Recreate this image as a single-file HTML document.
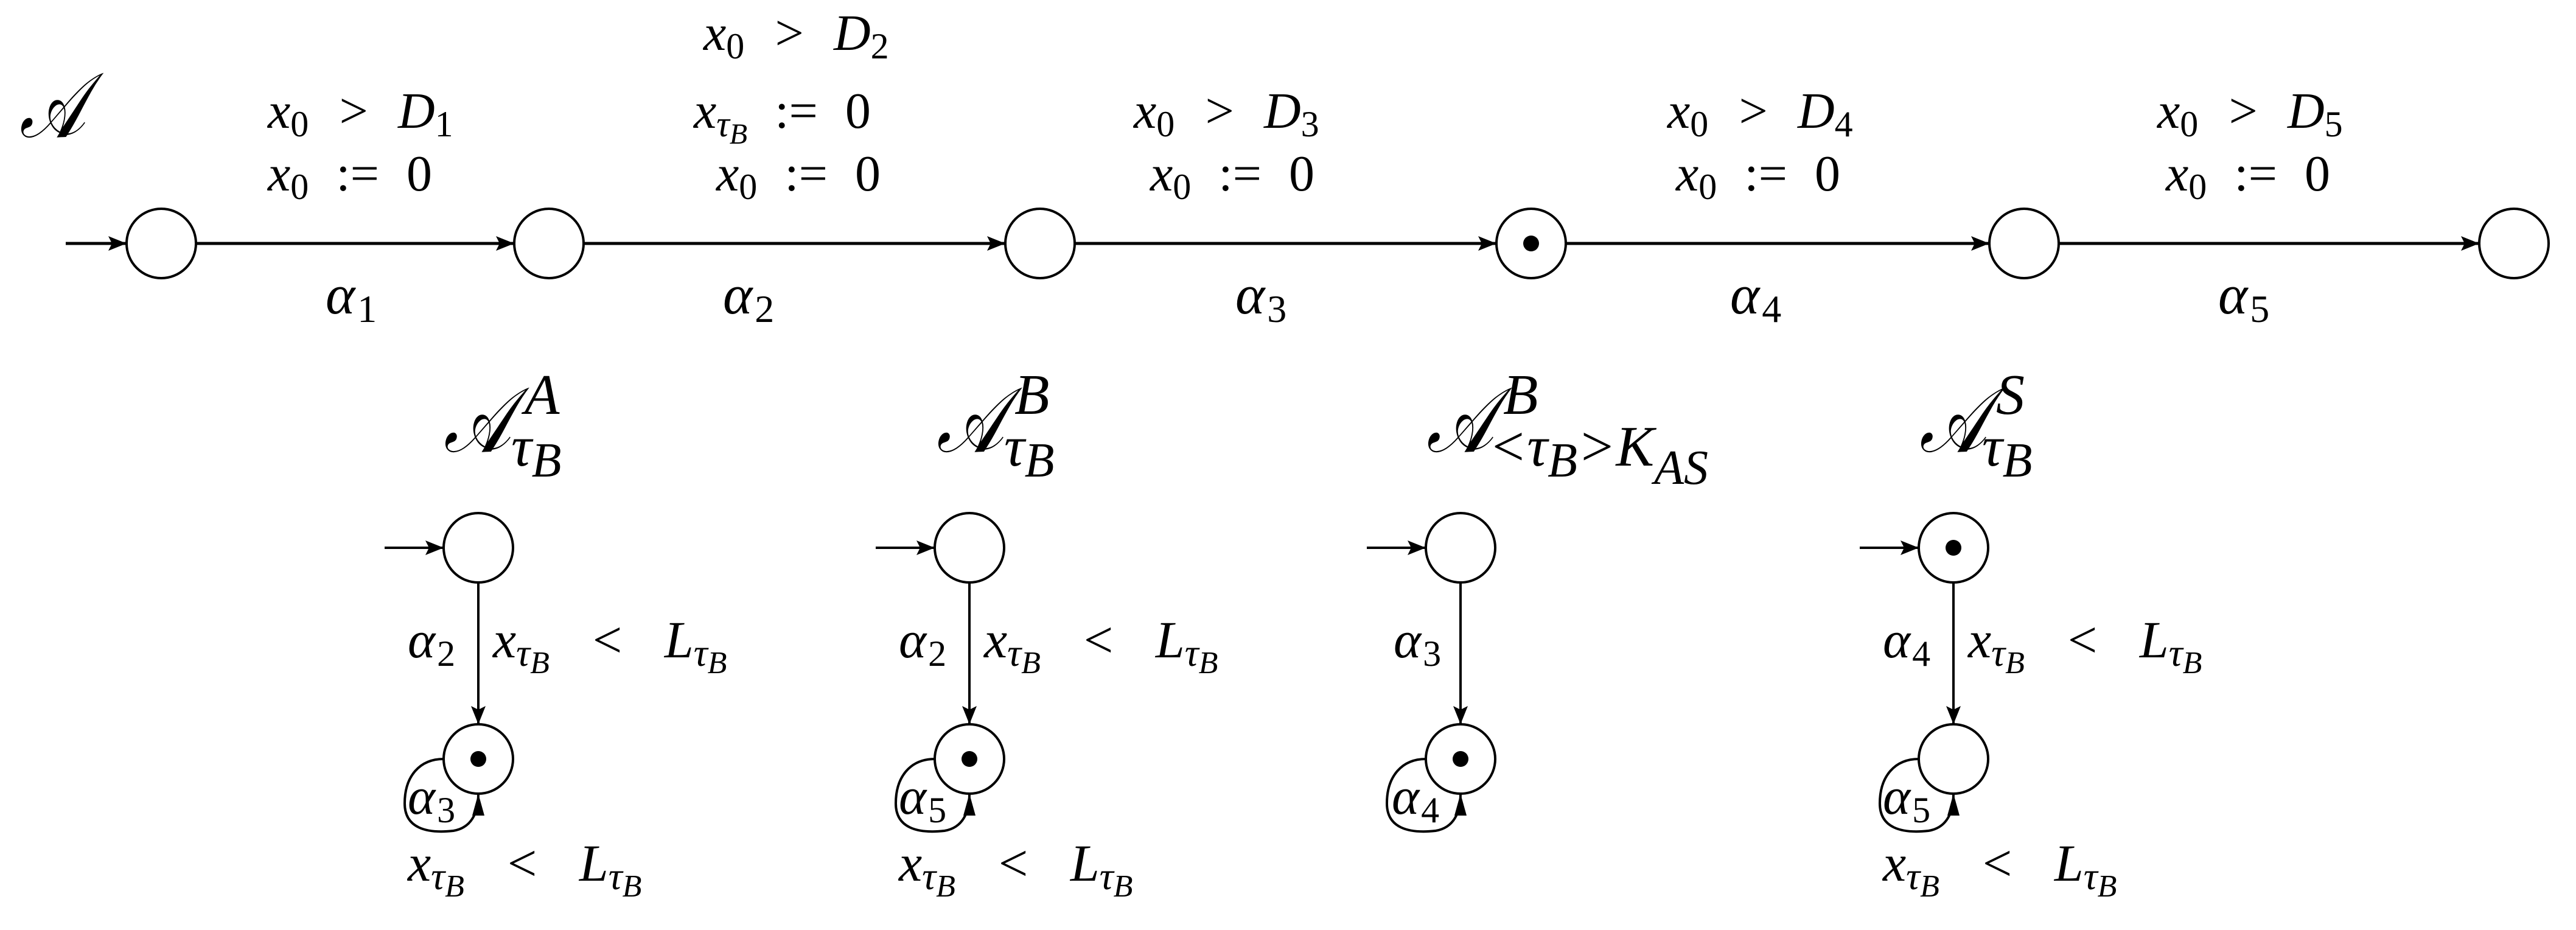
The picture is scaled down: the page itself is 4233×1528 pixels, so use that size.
<!DOCTYPE html>
<html><head><meta charset="utf-8"><style>
html,body{margin:0;padding:0;background:#fff}
svg{display:block}
text{font-family:"Liberation Serif",serif;font-style:italic;fill:#000}
.u{font-style:normal}
.w{word-spacing:24px}
.ww{word-spacing:44px}
</style></head><body>
<svg width="4233" height="1528" viewBox="0 0 4233 1528" xmlns="http://www.w3.org/2000/svg">
<g stroke="#000" stroke-width="5" fill="none">
<line x1="108" y1="400" x2="208" y2="400"/>
<line x1="322" y1="400" x2="845" y2="400"/>
<line x1="959" y1="400" x2="1652" y2="400"/>
<line x1="1766" y1="400" x2="2459" y2="400"/>
<line x1="2573" y1="400" x2="3269" y2="400"/>
<line x1="3383" y1="400" x2="4074" y2="400"/>
</g>
<g fill="#000">
<polygon points="208,400 178,388 184,400 178,412"/>
<polygon points="845,400 815,388 821,400 815,412"/>
<polygon points="1652,400 1622,388 1628,400 1622,412"/>
<polygon points="2459,400 2429,388 2435,400 2429,412"/>
<polygon points="3269,400 3239,388 3245,400 3239,412"/>
<polygon points="4074,400 4044,388 4050,400 4044,412"/>
</g>
<g stroke="#000" stroke-width="4" fill="#fff">
<circle cx="265" cy="400" r="57"/>
<circle cx="902" cy="400" r="57"/>
<circle cx="1709" cy="400" r="57"/>
<circle cx="2516" cy="400" r="57"/>
<circle cx="3326" cy="400" r="57"/>
<circle cx="4131" cy="400" r="57"/>
</g>
<circle cx="2516" cy="400" r="13" fill="#000"/>

<text x="32" y="225" font-size="150" textLength="108" lengthAdjust="spacingAndGlyphs">𝒜</text>
<g font-size="84" class="w">
<text x="440" y="210">x<tspan class="u" font-size="60" dy="14">0</tspan><tspan dy="-14"> &gt; D</tspan><tspan class="u" font-size="60" dy="14">1</tspan></text>
<text x="440" y="313">x<tspan class="u" font-size="60" dy="14">0</tspan><tspan class="u" dy="-14"> := 0</tspan></text>
<text x="1156" y="82">x<tspan class="u" font-size="60" dy="14">0</tspan><tspan dy="-14"> &gt; D</tspan><tspan class="u" font-size="60" dy="14">2</tspan></text>
<text x="1140" y="210">x<tspan font-size="60" dy="14">τ</tspan><tspan font-size="48" dy="12">B</tspan><tspan class="u" dy="-26"> := 0</tspan></text>
<text x="1177" y="313">x<tspan class="u" font-size="60" dy="14">0</tspan><tspan class="u" dy="-14"> := 0</tspan></text>
<text x="1863" y="210">x<tspan class="u" font-size="60" dy="14">0</tspan><tspan dy="-14"> &gt; D</tspan><tspan class="u" font-size="60" dy="14">3</tspan></text>
<text x="1890" y="313">x<tspan class="u" font-size="60" dy="14">0</tspan><tspan class="u" dy="-14"> := 0</tspan></text>
<text x="2740" y="210">x<tspan class="u" font-size="60" dy="14">0</tspan><tspan dy="-14"> &gt; D</tspan><tspan class="u" font-size="60" dy="14">4</tspan></text>
<text x="2754" y="313">x<tspan class="u" font-size="60" dy="14">0</tspan><tspan class="u" dy="-14"> := 0</tspan></text>
<text x="3545" y="210">x<tspan class="u" font-size="60" dy="14">0</tspan><tspan dy="-14"> &gt; D</tspan><tspan class="u" font-size="60" dy="14">5</tspan></text>
<text x="3559" y="313">x<tspan class="u" font-size="60" dy="14">0</tspan><tspan class="u" dy="-14"> := 0</tspan></text>
</g>
<g font-size="92">
<text x="535" y="515">α<tspan class="u" font-size="64" dx="4" dy="14">1</tspan></text>
<text x="1188" y="515">α<tspan class="u" font-size="64" dx="4" dy="14">2</tspan></text>
<text x="2030" y="515">α<tspan class="u" font-size="64" dx="4" dy="14">3</tspan></text>
<text x="2843" y="515">α<tspan class="u" font-size="64" dx="4" dy="14">4</tspan></text>
<text x="3645" y="515">α<tspan class="u" font-size="64" dx="4" dy="14">5</tspan></text>
</g>

<g font-size="150">
<text x="729" y="742" textLength="110" lengthAdjust="spacingAndGlyphs">𝒜</text>
<text x="1539" y="742" textLength="110" lengthAdjust="spacingAndGlyphs">𝒜</text>
<text x="2344" y="742" textLength="110" lengthAdjust="spacingAndGlyphs">𝒜</text>
<text x="3154" y="742" textLength="110" lengthAdjust="spacingAndGlyphs">𝒜</text>
</g>
<g font-size="94">
<text x="862" y="680">A</text>
<text x="1667" y="680">B</text>
<text x="2470" y="680">B</text>
<text x="3280" y="680">S</text>
<text x="840" y="765">τ<tspan font-size="80" dy="18">B</tspan></text>
<text x="1650" y="765">τ<tspan font-size="80" dy="18">B</tspan></text>
<text x="3257" y="765">τ<tspan font-size="80" dy="18">B</tspan></text>
<text x="2446" y="765" style="word-spacing:0">&lt;τ<tspan font-size="80" dy="18">B</tspan><tspan dy="-18">&gt;K</tspan><tspan font-size="80" dy="30">AS</tspan></text>
</g>

<g stroke="#000" stroke-width="4" fill="none">
<line x1="632" y1="900" x2="729" y2="900"/>
<line x1="786" y1="957" x2="786" y2="1190"/>
<path d="M729,1247 C690,1247 665,1275 665,1320 C665,1360 700,1370 745,1365 C775,1360 786,1335 786,1304"/>
<line x1="1439" y1="900" x2="1536" y2="900"/>
<line x1="1593" y1="957" x2="1593" y2="1190"/>
<path d="M1536,1247 C1497,1247 1472,1275 1472,1320 C1472,1360 1507,1370 1552,1365 C1582,1360 1593,1335 1593,1304"/>
<line x1="2246" y1="900" x2="2343" y2="900"/>
<line x1="2400" y1="957" x2="2400" y2="1190"/>
<path d="M2343,1247 C2304,1247 2279,1275 2279,1320 C2279,1360 2314,1370 2359,1365 C2389,1360 2400,1335 2400,1304"/>
<line x1="3056" y1="900" x2="3153" y2="900"/>
<line x1="3210" y1="957" x2="3210" y2="1190"/>
<path d="M3153,1247 C3114,1247 3089,1275 3089,1320 C3089,1360 3124,1370 3169,1365 C3199,1360 3210,1335 3210,1304"/>
</g>
<g fill="#000">
<polygon points="729,900 699,888 705,900 699,912"/>
<polygon points="786,1190 774,1160 786,1166 798,1160"/>
<polygon points="786,1304 776,1340 796,1340"/>
<polygon points="1536,900 1506,888 1512,900 1506,912"/>
<polygon points="1593,1190 1581,1160 1593,1166 1605,1160"/>
<polygon points="1593,1304 1583,1340 1603,1340"/>
<polygon points="2343,900 2313,888 2319,900 2313,912"/>
<polygon points="2400,1190 2388,1160 2400,1166 2412,1160"/>
<polygon points="2400,1304 2390,1340 2410,1340"/>
<polygon points="3153,900 3123,888 3129,900 3123,912"/>
<polygon points="3210,1190 3198,1160 3210,1166 3222,1160"/>
<polygon points="3210,1304 3200,1340 3220,1340"/>
</g>
<g stroke="#000" stroke-width="4" fill="#fff">
<circle cx="786" cy="900" r="57"/><circle cx="786" cy="1247" r="57"/>
<circle cx="1593" cy="900" r="57"/><circle cx="1593" cy="1247" r="57"/>
<circle cx="2400" cy="900" r="57"/><circle cx="2400" cy="1247" r="57"/>
<circle cx="3210" cy="900" r="57"/><circle cx="3210" cy="1247" r="57"/>
</g>
<g fill="#000">
<circle cx="786" cy="1247" r="13"/>
<circle cx="1593" cy="1247" r="13"/>
<circle cx="2400" cy="1247" r="13"/>
<circle cx="3210" cy="900" r="13"/>
</g>
<g font-size="86" class="ww">
<text x="670" y="1080">α<tspan class="u" font-size="60" dx="3" dy="14">2</tspan></text>
<text x="810" y="1080">x<tspan font-size="64" dy="14">τ</tspan><tspan font-size="52" dy="12">B</tspan><tspan dy="-26"> &lt; L</tspan><tspan font-size="64" dy="14">τ</tspan><tspan font-size="52" dy="12">B</tspan></text>
<text x="670" y="1337">α<tspan class="u" font-size="60" dx="3" dy="14">3</tspan></text>
<text x="670" y="1447">x<tspan font-size="64" dy="14">τ</tspan><tspan font-size="52" dy="12">B</tspan><tspan dy="-26"> &lt; L</tspan><tspan font-size="64" dy="14">τ</tspan><tspan font-size="52" dy="12">B</tspan></text>

<text x="1477" y="1080">α<tspan class="u" font-size="60" dx="3" dy="14">2</tspan></text>
<text x="1617" y="1080">x<tspan font-size="64" dy="14">τ</tspan><tspan font-size="52" dy="12">B</tspan><tspan dy="-26"> &lt; L</tspan><tspan font-size="64" dy="14">τ</tspan><tspan font-size="52" dy="12">B</tspan></text>
<text x="1477" y="1337">α<tspan class="u" font-size="60" dx="3" dy="14">5</tspan></text>
<text x="1477" y="1447">x<tspan font-size="64" dy="14">τ</tspan><tspan font-size="52" dy="12">B</tspan><tspan dy="-26"> &lt; L</tspan><tspan font-size="64" dy="14">τ</tspan><tspan font-size="52" dy="12">B</tspan></text>

<text x="2290" y="1080">α<tspan class="u" font-size="60" dx="3" dy="14">3</tspan></text>
<text x="2287" y="1337">α<tspan class="u" font-size="60" dx="3" dy="14">4</tspan></text>

<text x="3094" y="1080">α<tspan class="u" font-size="60" dx="3" dy="14">4</tspan></text>
<text x="3234" y="1080">x<tspan font-size="64" dy="14">τ</tspan><tspan font-size="52" dy="12">B</tspan><tspan dy="-26"> &lt; L</tspan><tspan font-size="64" dy="14">τ</tspan><tspan font-size="52" dy="12">B</tspan></text>
<text x="3094" y="1337">α<tspan class="u" font-size="60" dx="3" dy="14">5</tspan></text>
<text x="3094" y="1447">x<tspan font-size="64" dy="14">τ</tspan><tspan font-size="52" dy="12">B</tspan><tspan dy="-26"> &lt; L</tspan><tspan font-size="64" dy="14">τ</tspan><tspan font-size="52" dy="12">B</tspan></text>
</g>
</svg>
</body></html>
